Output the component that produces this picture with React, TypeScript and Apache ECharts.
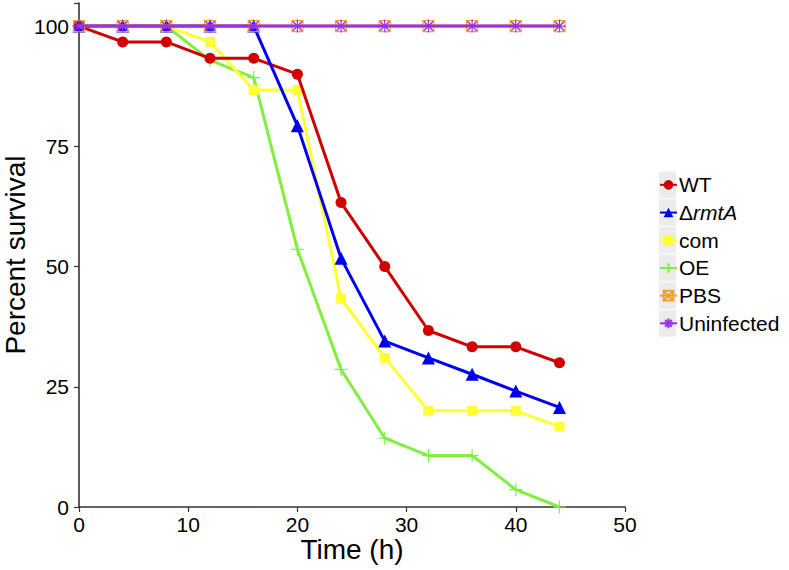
import React, { useEffect, useRef } from "react";
import * as echarts from "echarts";

const times = [0, 4, 8, 12, 16, 20, 24, 28, 32, 36, 40, 44];
const wt = [100, 96.7, 96.7, 93.3, 93.3, 90, 63.3, 50, 36.7, 33.3, 33.3, 30];
const rmtA = [100, 100, 100, 100, 100, 79.3, 51.7, 34.5, 31, 27.6, 24.1, 20.7];
const com = [100, 100, 100, 96.7, 86.7, 86.7, 43.3, 31, 20, 20, 20, 16.7];
const oe = [100, 100, 100, 92.9, 89.3, 53.6, 28.6, 14.3, 10.7, 10.7, 3.6, 0];
const pbs = [100, 100, 100, 100, 100, 100, 100, 100, 100, 100, 100, 100];
const uninfected = [100, 100, 100, 100, 100, 100, 100, 100, 100, 100, 100, 100];
const names = ["WT", "ΔrmtA", "com", "OE", "PBS", "Uninfected"];
const xTicks = [0, 10, 20, 30, 40, 50];
const yTicks = [0, 25, 50, 75, 100];

const FONT = "Liberation Sans, Arial, sans-serif";

const pair = (ys: number[]) => times.map((t, i) => [t, ys[i]]);

export default function App() {
  const ref = useRef<HTMLDivElement>(null);
  useEffect(() => {
    if (!ref.current) return;
    const chart = echarts.init(ref.current, undefined, { renderer: "svg" });
    const mk = (
      name: string,
      ys: number[],
      color: string,
      symbol: string,
      size: number,
      z: number,
      stroke = false
    ) => ({
      name,
      type: "line",
      data: pair(ys),
      symbol,
      symbolSize: size,
      showSymbol: true,
      z,
      lineStyle: { color, width: 3 },
      itemStyle: stroke
        ? { color: "rgba(0,0,0,0)", borderColor: color, borderWidth: 1.2 }
        : { color, borderWidth: 0 },
      emphasis: { disabled: true },
    });
    const boxX = "path://M0,0L10,0L10,10L0,10Z M0,0L10,10 M10,0L0,10";
    const plus = "path://M5,0L5,10 M0,5L10,5";
    const star = "path://M5,0L5,10 M0,5L10,5 M1.5,1.5L8.5,8.5 M8.5,1.5L1.5,8.5";
    const legendLeft = 659;
    const legendTop = 171;
    const pitch = 27.7;
    const keyRects = names.map((_, i) => ({
      type: "rect",
      shape: { x: legendLeft, y: legendTop + i * pitch + 0.5, width: 17, height: pitch - 1 },
      style: { fill: "#ececec" },
      z: -1,
    }));
    chart.setOption({
      animation: false,
      backgroundColor: "#fff",
      grid: { left: 79, right: 164, top: 3, bottom: 63, outerBoundsMode: "none", containLabel: false },
      xAxis: {
        type: "value",
        min: 0,
        max: 50,
        interval: 10,
        name: "Time (h)",
        nameLocation: "middle",
        nameGap: 28,
        nameMoveOverlap: false,
        nameTextStyle: { fontSize: 28, color: "#000", fontFamily: FONT },
        axisLine: { lineStyle: { color: "#333", width: 1.6 } },
        axisTick: { length: 5, lineStyle: { color: "#333", width: 1.2 } },
        axisLabel: {
          fontSize: 21,
          color: "#000",
          fontFamily: FONT,
          margin: 7,
          customValues: xTicks,
        },
        splitLine: { show: false },
      },
      yAxis: {
        type: "value",
        min: 0,
        max: 104.8,
        interval: 25,
        name: "Percent survival",
        nameLocation: "middle",
        nameGap: 50,
        nameMoveOverlap: false,
        nameTextStyle: { fontSize: 28, color: "#000", fontFamily: FONT, lineHeight: 28 },
        axisLine: { show: true, lineStyle: { color: "#333", width: 1.6 } },
        axisTick: { show: true, length: 5, lineStyle: { color: "#333", width: 1.2 } },
        axisLabel: {
          fontSize: 21,
          color: "#000",
          fontFamily: FONT,
          margin: 10,
          formatter: (v: number) => (yTicks.includes(v) ? String(v) : ""),
        },
        splitLine: { show: false },
      },
      legend: {
        orient: "vertical",
        left: legendLeft,
        top: legendTop,
        padding: 0,
        itemWidth: 17,
        itemHeight: 12,
        itemGap: 0,
        data: names,
        textStyle: {
          fontSize: 21,
          color: "#000",
          fontFamily: FONT,
          lineHeight: pitch,
          padding: [0, 0, 0, -3],
          rich: {
            a: { fontSize: 21, fontFamily: FONT, color: "#000", lineHeight: pitch },
            b: {
              fontSize: 21,
              fontFamily: FONT,
              color: "#000",
              fontStyle: "italic",
              lineHeight: pitch,
            },
          },
        },
        formatter: (n: string) => (n === "ΔrmtA" ? "{a|Δ}{b|rmtA}" : n),
        selectedMode: false,
      },
      graphic: keyRects,
      series: [
        mk("WT", wt, "#d00000", "circle", 11, 3),
        mk("ΔrmtA", rmtA, "#0000f0", "triangle", 13, 4),
        mk("com", com, "#ffff33", "rect", 10, 2),
        mk("OE", oe, "#80f040", plus, 13, 1, true),
        mk("PBS", pbs, "#f0a030", boxX, 11, 5, true),
        mk("Uninfected", uninfected, "#9b30e8", star, 13, 6, true),
      ],
    });
    return () => chart.dispose();
  }, []);
  return (
    <div
      ref={ref}
      style={{ position: "absolute", left: 0, top: 0, width: 789, height: 570 }}
    />
  );
}
